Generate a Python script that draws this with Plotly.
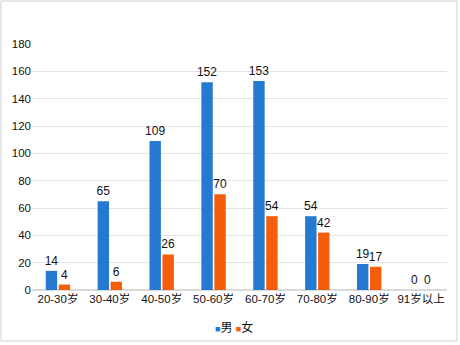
import plotly.graph_objects as go

categories = ["20-30岁", "30-40岁", "40-50岁", "50-60岁", "60-70岁", "70-80岁", "80-90岁", "91岁以上"]
male = [14, 65, 109, 152, 153, 54, 19, 0]
female = [4, 6, 26, 70, 54, 42, 17, 0]
y_ticks = [0, 20, 40, 60, 80, 100, 120, 140, 160, 180]
series_names = ["男", "女"]
colors = ["#2479D0", "#F45D0A"]

FONT = "Liberation Sans, Arial, Noto Sans CJK SC, sans-serif"
W, H = 460, 345
L, R, T, B = 32, 13, 44, 55
pw, ph = W - L - R, H - T - B

fig = go.Figure()
for name, vals, col in zip(series_names, [male, female], colors):
    fig.add_trace(go.Bar(name=name, x=categories, y=vals, marker_color=col,
                         marker_line=dict(width=0),
                         text=vals, textposition="outside", cliponaxis=False,
                         constraintext="none",
                         textfont=dict(size=12, color="#111111")))

legend_text = " ".join(
    f"<span style='color:{c};font-size:9px'>■</span>{n}" for n, c in zip(series_names, colors))

fig.update_layout(
    width=W, height=H,
    margin=dict(l=L, r=R, t=T, b=B, autoexpand=False),
    paper_bgcolor="white", plot_bgcolor="white",
    font=dict(family=FONT, size=11.5, color="#111111"),
    barmode="group", bargap=0.5, bargroupgap=0.12,
    showlegend=False,
    annotations=[dict(text=legend_text, xref="paper", yref="paper", x=(234 - L) / pw,
                      y=-37 / ph, xanchor="center", yanchor="middle",
                      showarrow=False, font=dict(size=12, color="#111111"))],
    xaxis=dict(showgrid=False, showline=False, ticks="", tickfont=dict(size=11.5),
               automargin=False),
    yaxis=dict(range=[0, 180], tickvals=y_ticks, showgrid=True, gridcolor="#E3E3E3",
               gridwidth=1, zeroline=True, zerolinecolor="#D9D9D9", showline=False,
               ticks="", tickfont=dict(size=11.5), automargin=False),
    shapes=[dict(type="rect", xref="paper", yref="paper",
                 x0=(1 - L) / pw, x1=(W - 3 - L) / pw,
                 y0=(T + ph - 341) / ph, y1=(T + ph - 1) / ph,
                 line=dict(color="#D0D0D0", width=1), fillcolor="rgba(0,0,0,0)", layer="below")],
)

fig.write_html("out.html", config={"displayModeBar": False},
               post_script="document.body.style.margin='0';")
